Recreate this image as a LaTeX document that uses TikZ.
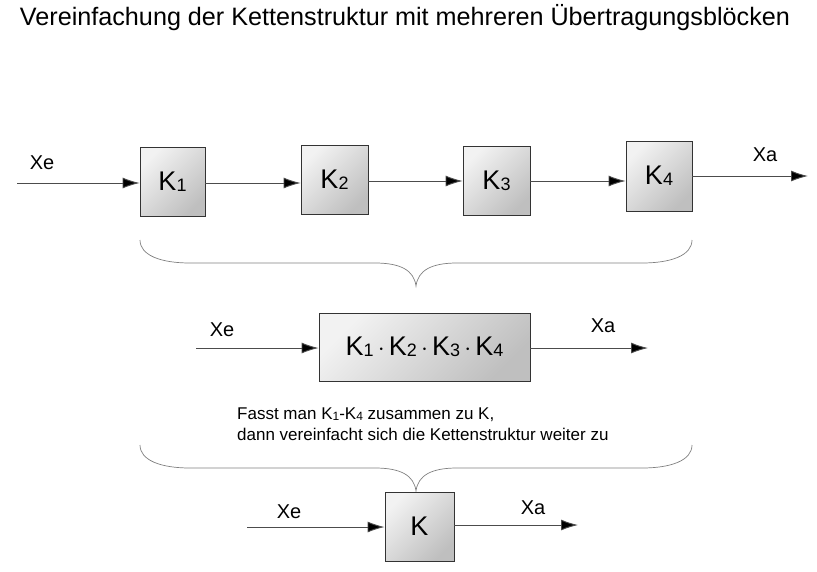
\documentclass[tikz,border=0pt]{standalone}
\usepackage{fontspec}
\setmainfont{Liberation Sans}
\usepackage{graphicx}
\usetikzlibrary{arrows.meta}
\newcommand{\ksub}[1]{K\raisebox{-1pt}{\fontsize{18}{20}\selectfont #1}}
\begin{document}
\begin{tikzpicture}[x=1pt,y=-1pt,
 blk/.style={draw=black!80,line width=0.9pt,top color=white!95!black,bottom color=black!25,shading angle=45,inner sep=0pt,font=\fontsize{27}{30}\selectfont},
 conn/.style={draw=black!70,line width=0.9pt,-{Latex[length=17pt,width=11pt,fill=black]}},
 lbl/.style={font=\fontsize{20}{24}\selectfont,inner sep=0pt},
 brace/.style={draw=black!50,line width=0.7pt}]
\useasboundingbox (0,0) rectangle (817,571);
\node[inner sep=0pt] (title) at (405,18) {\resizebox{770pt}{!}{\fontsize{14}{16}\selectfont Vereinfachung der Kettenstruktur mit mehreren Übertragungsblöcken}};
% row 1
\node[blk,minimum width=65pt,minimum height=69pt] (k1) at (172.5,181.5) {\ksub{1}};
\node[blk,minimum width=67pt,minimum height=69pt] (k2) at (334.5,179.5) {\ksub{2}};
\node[blk,minimum width=67pt,minimum height=69pt] (k3) at (496.5,180.5) {\ksub{3}};
\node[blk,minimum width=66pt,minimum height=70pt] (k4) at (659,176) {\ksub{4}};
\coordinate (in1) at (17,183);
\coordinate (out1) at (808,176);
\draw[conn] (in1) -- (in1 -| k1.west);
\draw[conn] (k1.east |- 0,183) -- (k2.west |- 0,183);
\draw[conn] (k2.east |- 0,181) -- (k3.west |- 0,181);
\draw[conn] (k3.east |- 0,181) -- (k4.west |- 0,181);
\draw[conn] (k4.east |- out1) -- (out1);
\node[lbl] (xe1) at (42,163) {Xe};
\node[lbl] (xa1) at (765,155) {Xa};
% brace 1
\draw[brace] (140,240) .. controls (140,255) and (160,263) .. (190,263) -- (375,263) .. controls (400,263) and (414,270) .. (416,286)
 .. controls (418,270) and (432,263) .. (457,263) -- (642,263) .. controls (672,263) and (692,255) .. (692,240);
% row 2
\node[blk,minimum width=211pt,minimum height=68pt] (kk) at (424.5,347) {\ksub{1}$\,\cdot\,$\ksub{2}$\,\cdot\,$\ksub{3}$\,\cdot\,$\ksub{4}};
\coordinate (in2) at (196,348);
\coordinate (out2) at (648,348);
\draw[conn] (in2) -- (in2 -| kk.west);
\draw[conn] (kk.east |- out2) -- (out2);
\node[lbl] (xe2) at (222,330) {Xe};
\node[lbl] (xa2) at (603,326) {Xa};
\node[anchor=north west,inner sep=0pt,align=left,font=\fontsize{17}{21}\selectfont] (txt) at (237,408) {Fasst man K\raisebox{-1pt}{\fontsize{12}{12}\selectfont 1}-K\raisebox{-1pt}{\fontsize{12}{12}\selectfont 4} zusammen zu K,\\dann vereinfacht sich die Kettenstruktur weiter zu};
% brace 2
\draw[brace] (140,445) .. controls (140,460) and (160,468) .. (190,468) -- (375,468) .. controls (400,468) and (414,475) .. (416,491)
 .. controls (418,475) and (432,468) .. (457,468) -- (642,468) .. controls (672,468) and (692,460) .. (692,445);
% row 3
\node[blk,minimum width=69pt,minimum height=69pt] (k) at (419.5,526.5) {K};
\coordinate (in3) at (247,527);
\coordinate (out3) at (578,525);
\draw[conn] (in3) -- (in3 -| k.west);
\draw[conn] (k.east |- out3) -- (out3);
\node[lbl] (xe3) at (289,512) {Xe};
\node[lbl] (xa3) at (533,508) {Xa};
\end{tikzpicture}
\end{document}
